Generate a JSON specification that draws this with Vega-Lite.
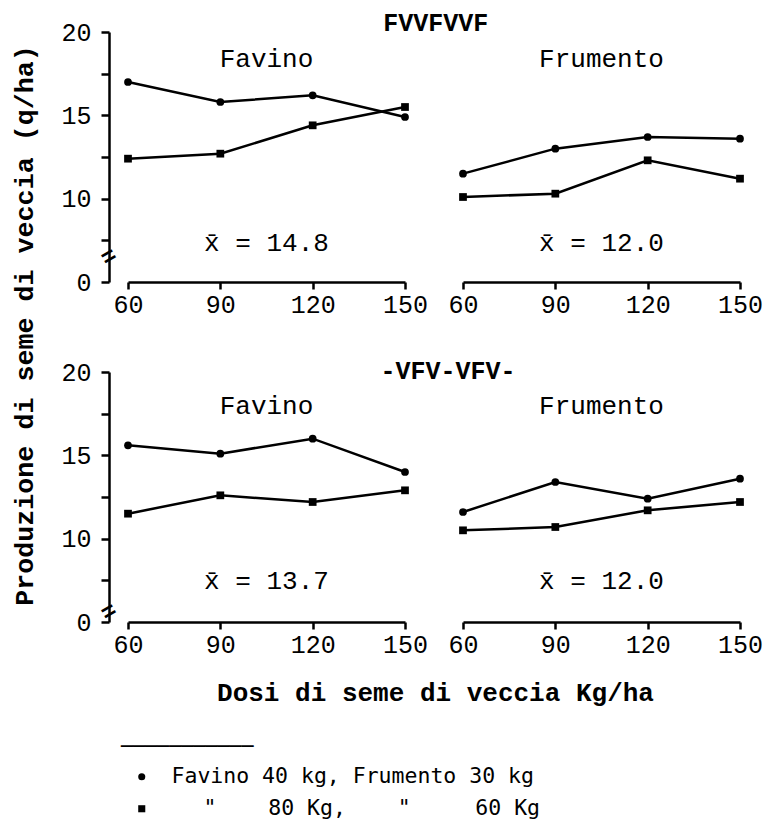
{
  "$schema": "https://vega.github.io/schema/vega-lite/v6.json",
  "background": "white",
  "padding": {"left": 10, "top": 10, "right": 5, "bottom": 5},
  "bounds": "flush",
  "columns": 2,
  "spacing": {"row": 90, "column": 58},
  "config": {"view": {"stroke": null}, "font": "Liberation Mono"},
  "datasets": {
    "main": [
      {"system": "FVVFVVF", "crop": "Favino", "series": "A", "dose": 60, "value": 17.0},
      {"system": "FVVFVVF", "crop": "Favino", "series": "A", "dose": 90, "value": 15.8},
      {"system": "FVVFVVF", "crop": "Favino", "series": "A", "dose": 120, "value": 16.2},
      {"system": "FVVFVVF", "crop": "Favino", "series": "A", "dose": 150, "value": 14.9},
      {"system": "FVVFVVF", "crop": "Favino", "series": "B", "dose": 60, "value": 12.4},
      {"system": "FVVFVVF", "crop": "Favino", "series": "B", "dose": 90, "value": 12.7},
      {"system": "FVVFVVF", "crop": "Favino", "series": "B", "dose": 120, "value": 14.4},
      {"system": "FVVFVVF", "crop": "Favino", "series": "B", "dose": 150, "value": 15.5},
      {"system": "FVVFVVF", "crop": "Frumento", "series": "A", "dose": 60, "value": 11.5},
      {"system": "FVVFVVF", "crop": "Frumento", "series": "A", "dose": 90, "value": 13.0},
      {"system": "FVVFVVF", "crop": "Frumento", "series": "A", "dose": 120, "value": 13.7},
      {"system": "FVVFVVF", "crop": "Frumento", "series": "A", "dose": 150, "value": 13.6},
      {"system": "FVVFVVF", "crop": "Frumento", "series": "B", "dose": 60, "value": 10.1},
      {"system": "FVVFVVF", "crop": "Frumento", "series": "B", "dose": 90, "value": 10.3},
      {"system": "FVVFVVF", "crop": "Frumento", "series": "B", "dose": 120, "value": 12.3},
      {"system": "FVVFVVF", "crop": "Frumento", "series": "B", "dose": 150, "value": 11.2},
      {"system": "-VFV-VFV-", "crop": "Favino", "series": "A", "dose": 60, "value": 15.6},
      {"system": "-VFV-VFV-", "crop": "Favino", "series": "A", "dose": 90, "value": 15.1},
      {"system": "-VFV-VFV-", "crop": "Favino", "series": "A", "dose": 120, "value": 16.0},
      {"system": "-VFV-VFV-", "crop": "Favino", "series": "A", "dose": 150, "value": 14.0},
      {"system": "-VFV-VFV-", "crop": "Favino", "series": "B", "dose": 60, "value": 11.5},
      {"system": "-VFV-VFV-", "crop": "Favino", "series": "B", "dose": 90, "value": 12.6},
      {"system": "-VFV-VFV-", "crop": "Favino", "series": "B", "dose": 120, "value": 12.2},
      {"system": "-VFV-VFV-", "crop": "Favino", "series": "B", "dose": 150, "value": 12.9},
      {"system": "-VFV-VFV-", "crop": "Frumento", "series": "A", "dose": 60, "value": 11.6},
      {"system": "-VFV-VFV-", "crop": "Frumento", "series": "A", "dose": 90, "value": 13.4},
      {"system": "-VFV-VFV-", "crop": "Frumento", "series": "A", "dose": 120, "value": 12.4},
      {"system": "-VFV-VFV-", "crop": "Frumento", "series": "A", "dose": 150, "value": 13.6},
      {"system": "-VFV-VFV-", "crop": "Frumento", "series": "B", "dose": 60, "value": 10.5},
      {"system": "-VFV-VFV-", "crop": "Frumento", "series": "B", "dose": 90, "value": 10.7},
      {"system": "-VFV-VFV-", "crop": "Frumento", "series": "B", "dose": 120, "value": 11.7},
      {"system": "-VFV-VFV-", "crop": "Frumento", "series": "B", "dose": 150, "value": 12.2}
    ]
  },
  "concat": [
    {
      "width": 277, "height": 250,
      "layer": [
        {"data": {"name": "main"}, "transform": [{"filter": "datum.system == 'FVVFVVF' && datum.crop == 'Favino'"}],
          "mark": {"type": "line", "color": "black", "strokeWidth": 2.5},
          "encoding": {
            "x": {"field": "dose", "type": "quantitative", "title": null, "scale": {"domain": [60, 150], "nice": false, "zero": false},
              "axis": {"values": [60, 90, 120, 150], "grid": false, "domainColor": "black", "domainWidth": 2.5, "tickColor": "black", "tickWidth": 2.5, "tickSize": 7, "labelFont": "Liberation Mono", "labelFontSize": 25, "labelColor": "black", "labelPadding": 3, "labelFlush": false, "labelOverlap": false, "labelAngle": 0}},
            "y": {"field": "value", "type": "quantitative", "title": "Produzione di seme di veccia (q/ha)", "scale": {"domain": [5, 20], "nice": false, "zero": false},
              "axis": {"values": [5, 7.5, 10, 12.5, 15, 17.5, 20], "labelExpr": "datum.value == 5 ? '0' : (datum.value % 5 == 0 ? datum.label : '')", "offset": 19, "grid": false, "domainColor": "black", "domainWidth": 2.5, "tickColor": "black", "tickWidth": 2.5, "tickSize": 8, "labelFont": "Liberation Mono", "labelFontSize": 25, "labelColor": "black", "labelPadding": 10, "labelFlush": false, "labelOverlap": false, "titleFont": "Liberation Mono", "titleFontSize": 26.7, "titleFontWeight": "bold", "titleColor": "black", "titleX": -85, "titleY": 293, "titleBaseline": "middle", "titleAngle": 270}},
            "detail": {"field": "series", "type": "nominal"}
          }},
        {"data": {"name": "main"}, "transform": [{"filter": "datum.system == 'FVVFVVF' && datum.crop == 'Favino'"}],
          "mark": {"type": "point", "filled": true, "color": "black", "opacity": 1, "size": 60},
          "encoding": {
            "x": {"field": "dose", "type": "quantitative", "title": null},
            "y": {"field": "value", "type": "quantitative", "title": "Produzione di seme di veccia (q/ha)"},
            "shape": {"field": "series", "type": "nominal", "scale": {"domain": ["A", "B"], "range": ["circle", "square"]},
              "legend": {"orient": "none", "legendX": -7, "legendY": 705, "title": "───────────", "titleFont": "DejaVu Sans Mono", "titleFontSize": 20, "titleFontWeight": "normal", "titleColor": "black", "titlePadding": 9, "labelExpr": "datum.value == 'A' ? 'Favino 40 kg, Frumento 30 kg' : '\u2800\u2800\"\u00a0\u00a0\u00a0\u00a080 Kg,\u00a0\u00a0\u00a0\u00a0\"\u00a0\u00a0\u00a0\u00a0\u00a060 Kg'", "labelFont": "DejaVu Sans Mono", "labelFontSize": 21.5, "labelColor": "black", "symbolSize": 50, "symbolFillColor": "black", "symbolStrokeColor": "black", "symbolOffset": 10, "labelOffset": 19, "rowPadding": 9, "padding": 0, "labelLimit": 600}}
          }},
        {"data": {"values": [{"label": "Favino"}]}, "mark": {"type": "text", "font": "Liberation Mono", "fontSize": 26, "color": "black", "align": "center", "baseline": "alphabetic"},
          "encoding": {"x": {"datum": 105}, "y": {"datum": 17.9}, "text": {"field": "label", "type": "nominal"}}},
        {"data": {"values": [{"label": "x̄ = 14.8"}]}, "mark": {"type": "text", "font": "Liberation Mono", "fontSize": 26, "color": "black", "align": "center", "baseline": "alphabetic"},
          "encoding": {"x": {"datum": 105}, "y": {"datum": 6.86}, "text": {"field": "label", "type": "nominal"}}},
        {"data": {"values": [{"label": "FVVFVVF"}]}, "mark": {"type": "text", "font": "Liberation Mono", "fontSize": 25, "fontWeight": "bold", "color": "black", "align": "center", "baseline": "middle"},
          "encoding": {"x": {"datum": 160}, "y": {"datum": 20.57}, "text": {"field": "label", "type": "nominal"}}},
        {"data": {"values": [{"label": "="}]}, "mark": {"type": "text", "font": "Liberation Mono", "fontSize": 24, "fontWeight": "bold", "color": "black", "align": "center", "baseline": "middle", "angle": -30},
          "encoding": {"x": {"datum": 53.8}, "y": {"datum": 6.5}, "text": {"field": "label", "type": "nominal"}}}
      ]
    },
    {
      "width": 277, "height": 250,
      "layer": [
        {"data": {"name": "main"}, "transform": [{"filter": "datum.system == 'FVVFVVF' && datum.crop == 'Frumento'"}],
          "mark": {"type": "line", "color": "black", "strokeWidth": 2.5},
          "encoding": {
            "x": {"field": "dose", "type": "quantitative", "title": null, "scale": {"domain": [60, 150], "nice": false, "zero": false},
              "axis": {"values": [60, 90, 120, 150], "grid": false, "domainColor": "black", "domainWidth": 2.5, "tickColor": "black", "tickWidth": 2.5, "tickSize": 7, "labelFont": "Liberation Mono", "labelFontSize": 25, "labelColor": "black", "labelPadding": 3, "labelFlush": false, "labelOverlap": false, "labelAngle": 0}},
            "y": {"field": "value", "type": "quantitative", "title": null, "scale": {"domain": [5, 20], "nice": false, "zero": false}, "axis": null},
            "detail": {"field": "series", "type": "nominal"}
          }},
        {"data": {"name": "main"}, "transform": [{"filter": "datum.system == 'FVVFVVF' && datum.crop == 'Frumento'"}],
          "mark": {"type": "point", "filled": true, "color": "black", "opacity": 1, "size": 60},
          "encoding": {
            "x": {"field": "dose", "type": "quantitative", "title": null},
            "y": {"field": "value", "type": "quantitative", "title": null, "axis": null},
            "shape": {"field": "series", "type": "nominal", "scale": {"domain": ["A", "B"], "range": ["circle", "square"]}}
          }},
        {"data": {"values": [{"label": "Frumento"}]}, "mark": {"type": "text", "font": "Liberation Mono", "fontSize": 26, "color": "black", "align": "center", "baseline": "alphabetic"},
          "encoding": {"x": {"datum": 105}, "y": {"datum": 17.9, "axis": null}, "text": {"field": "label", "type": "nominal"}}},
        {"data": {"values": [{"label": "x̄ = 12.0"}]}, "mark": {"type": "text", "font": "Liberation Mono", "fontSize": 26, "color": "black", "align": "center", "baseline": "alphabetic"},
          "encoding": {"x": {"datum": 105}, "y": {"datum": 6.86, "axis": null}, "text": {"field": "label", "type": "nominal"}}}
      ]
    },
    {
      "width": 277, "height": 250,
      "layer": [
        {"data": {"name": "main"}, "transform": [{"filter": "datum.system == '-VFV-VFV-' && datum.crop == 'Favino'"}],
          "mark": {"type": "line", "color": "black", "strokeWidth": 2.5},
          "encoding": {
            "x": {"field": "dose", "type": "quantitative", "title": "Dosi di seme di veccia Kg/ha", "scale": {"domain": [60, 150], "nice": false, "zero": false},
              "axis": {"values": [60, 90, 120, 150], "grid": false, "domainColor": "black", "domainWidth": 2.5, "tickColor": "black", "tickWidth": 2.5, "tickSize": 7, "labelFont": "Liberation Mono", "labelFontSize": 25, "labelColor": "black", "labelPadding": 3, "labelFlush": false, "labelOverlap": false, "labelAngle": 0, "titleFont": "Liberation Mono", "titleFontSize": 26, "titleFontWeight": "bold", "titleColor": "black", "titleX": 307, "titleY": 70, "titleBaseline": "middle", "titleAlign": "center"}},
            "y": {"field": "value", "type": "quantitative", "title": null, "scale": {"domain": [5, 20], "nice": false, "zero": false},
              "axis": {"values": [5, 7.5, 10, 12.5, 15, 17.5, 20], "labelExpr": "datum.value == 5 ? '0' : (datum.value % 5 == 0 ? datum.label : '')", "offset": 19, "grid": false, "domainColor": "black", "domainWidth": 2.5, "tickColor": "black", "tickWidth": 2.5, "tickSize": 8, "labelFont": "Liberation Mono", "labelFontSize": 25, "labelColor": "black", "labelPadding": 10, "labelFlush": false, "labelOverlap": false}},
            "detail": {"field": "series", "type": "nominal"}
          }},
        {"data": {"name": "main"}, "transform": [{"filter": "datum.system == '-VFV-VFV-' && datum.crop == 'Favino'"}],
          "mark": {"type": "point", "filled": true, "color": "black", "opacity": 1, "size": 60},
          "encoding": {
            "x": {"field": "dose", "type": "quantitative", "title": "Dosi di seme di veccia Kg/ha"},
            "y": {"field": "value", "type": "quantitative", "title": null},
            "shape": {"field": "series", "type": "nominal", "scale": {"domain": ["A", "B"], "range": ["circle", "square"]}}
          }},
        {"data": {"values": [{"label": "Favino"}]}, "mark": {"type": "text", "font": "Liberation Mono", "fontSize": 26, "color": "black", "align": "center", "baseline": "alphabetic"},
          "encoding": {"x": {"datum": 105}, "y": {"datum": 17.48}, "text": {"field": "label", "type": "nominal"}}},
        {"data": {"values": [{"label": "x̄ = 13.7"}]}, "mark": {"type": "text", "font": "Liberation Mono", "fontSize": 26, "color": "black", "align": "center", "baseline": "alphabetic"},
          "encoding": {"x": {"datum": 105}, "y": {"datum": 6.98}, "text": {"field": "label", "type": "nominal"}}},
        {"data": {"values": [{"label": "-VFV-VFV-"}]}, "mark": {"type": "text", "font": "Liberation Mono", "fontSize": 25, "fontWeight": "bold", "color": "black", "align": "center", "baseline": "middle"},
          "encoding": {"x": {"datum": 164}, "y": {"datum": 20.06}, "text": {"field": "label", "type": "nominal"}}},
        {"data": {"values": [{"label": "="}]}, "mark": {"type": "text", "font": "Liberation Mono", "fontSize": 24, "fontWeight": "bold", "color": "black", "align": "center", "baseline": "middle", "angle": -30},
          "encoding": {"x": {"datum": 53.8}, "y": {"datum": 5.6}, "text": {"field": "label", "type": "nominal"}}}
      ]
    },
    {
      "width": 277, "height": 250,
      "layer": [
        {"data": {"name": "main"}, "transform": [{"filter": "datum.system == '-VFV-VFV-' && datum.crop == 'Frumento'"}],
          "mark": {"type": "line", "color": "black", "strokeWidth": 2.5},
          "encoding": {
            "x": {"field": "dose", "type": "quantitative", "title": null, "scale": {"domain": [60, 150], "nice": false, "zero": false},
              "axis": {"values": [60, 90, 120, 150], "grid": false, "domainColor": "black", "domainWidth": 2.5, "tickColor": "black", "tickWidth": 2.5, "tickSize": 7, "labelFont": "Liberation Mono", "labelFontSize": 25, "labelColor": "black", "labelPadding": 3, "labelFlush": false, "labelOverlap": false, "labelAngle": 0}},
            "y": {"field": "value", "type": "quantitative", "title": null, "scale": {"domain": [5, 20], "nice": false, "zero": false}, "axis": null},
            "detail": {"field": "series", "type": "nominal"}
          }},
        {"data": {"name": "main"}, "transform": [{"filter": "datum.system == '-VFV-VFV-' && datum.crop == 'Frumento'"}],
          "mark": {"type": "point", "filled": true, "color": "black", "opacity": 1, "size": 60},
          "encoding": {
            "x": {"field": "dose", "type": "quantitative", "title": null},
            "y": {"field": "value", "type": "quantitative", "title": null, "axis": null},
            "shape": {"field": "series", "type": "nominal", "scale": {"domain": ["A", "B"], "range": ["circle", "square"]}}
          }},
        {"data": {"values": [{"label": "Frumento"}]}, "mark": {"type": "text", "font": "Liberation Mono", "fontSize": 26, "color": "black", "align": "center", "baseline": "alphabetic"},
          "encoding": {"x": {"datum": 105}, "y": {"datum": 17.48, "axis": null}, "text": {"field": "label", "type": "nominal"}}},
        {"data": {"values": [{"label": "x̄ = 12.0"}]}, "mark": {"type": "text", "font": "Liberation Mono", "fontSize": 26, "color": "black", "align": "center", "baseline": "alphabetic"},
          "encoding": {"x": {"datum": 105}, "y": {"datum": 6.98, "axis": null}, "text": {"field": "label", "type": "nominal"}}}
      ]
    }
  ]
}
